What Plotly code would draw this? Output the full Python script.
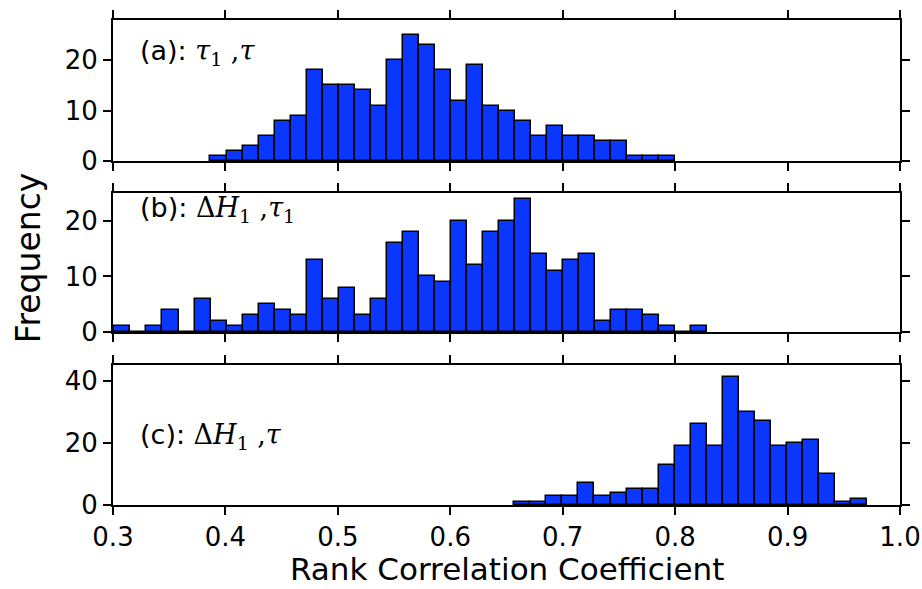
import plotly.graph_objects as go

# ---- data ----
counts_a = [1, 2, 3, 5, 8, 9, 18, 15, 15, 14, 11, 20, 25, 23, 18, 12, 19, 11, 10, 8, 5, 7, 5, 5, 4, 4, 1, 1, 1]
start_a, width_a = 0.3867, 0.01425

counts_b = [1, 0, 1, 4, 0, 6, 2, 1, 3, 5, 4, 3, 13, 6, 8, 3, 6, 16, 18, 10, 9, 20, 12, 18, 20, 24, 14, 11, 13, 14, 2, 4, 4, 3, 1, 0, 1]
start_b, width_b = 0.3013, 0.01424

counts_c = [1, 1, 3, 3, 7, 3, 4, 5, 5, 13, 19, 26, 19, 41, 30, 27, 19, 20, 21, 10, 1, 2]
start_c, width_c = 0.6569, 0.01427

x_ticks = [0.3, 0.4, 0.5, 0.6, 0.7, 0.8, 0.9, 1.0]
x_ticklabels = ["0.3", "0.4", "0.5", "0.6", "0.7", "0.8", "0.9", "1.0"]
y_ticks_a = [0, 10, 20]
y_ticks_b = [0, 10, 20]
y_ticks_c = [0, 20, 40]
y_max = [28, 25, 45]

labels = [
    "(a): <span style='font-family:\"DejaVu Serif\"'><i>τ</i><sub>1</sub> ,<i>τ</i></span>",
    "(b): <span style='font-family:\"DejaVu Serif\"'>Δ<i>H</i><sub>1</sub> ,<i>τ</i><sub>1</sub></span>",
    "(c): <span style='font-family:\"DejaVu Serif\"'>Δ<i>H</i><sub>1</sub> ,<i>τ</i></span>",
]

BAR_COLOR = "#0a37ff"
FONT = "DejaVu Sans"

panels = [(counts_a, start_a, width_a), (counts_b, start_b, width_b), (counts_c, start_c, width_c)]

fig = go.Figure()
for i, (cnts, s, w) in enumerate(panels):
    centers = [s + w * (k + 0.5) for k in range(len(cnts))]
    fig.add_trace(go.Bar(
        x=centers, y=cnts, width=[w] * len(cnts),
        marker=dict(color=BAR_COLOR, line=dict(color="black", width=1.5)),
        xaxis="x" if i == 0 else f"x{i+1}",
        yaxis="y" if i == 0 else f"y{i+1}",
        showlegend=False,
    ))

# plot-area geometry (px): left 112.5, right 900, top 20, bottom 505
domains = [[0.7093, 1.0], [0.3567, 0.6433], [0.0, 0.2887]]
yticks = [y_ticks_a, y_ticks_b, y_ticks_c]

common_x = dict(range=[0.3, 1.0], tickvals=x_ticks, ticktext=x_ticklabels,
                showline=True, linecolor="black", linewidth=2, mirror="ticks",
                ticks="outside", ticklen=8, tickwidth=1.5, tickcolor="black",
                showgrid=False, zeroline=False, automargin=False,
                tickfont=dict(family=FONT, size=26, color="black"))
common_y = dict(showline=True, linecolor="black", linewidth=2, mirror="ticks",
                ticks="outside", ticklen=8, tickwidth=1.5, tickcolor="black",
                showgrid=False, zeroline=False, automargin=False,
                tickfont=dict(family=FONT, size=26, color="black"))

layout = dict(
    width=922, height=589,
    margin=dict(l=112.5, r=22, t=20, b=84, autoexpand=False),
    paper_bgcolor="white", plot_bgcolor="white",
    bargap=0,
)
for i in range(3):
    xk = "xaxis" if i == 0 else f"xaxis{i+1}"
    yk = "yaxis" if i == 0 else f"yaxis{i+1}"
    ax = dict(common_x)
    ax["domain"] = [0, 1]
    ax["anchor"] = "y" if i == 0 else f"y{i+1}"
    ax["showticklabels"] = (i == 2)
    ay = dict(common_y)
    ay["domain"] = domains[i]
    ay["range"] = [0, y_max[i]]
    ay["tickvals"] = yticks[i]
    ay["anchor"] = "x" if i == 0 else f"x{i+1}"
    layout[xk] = ax
    layout[yk] = ay

fig.update_layout(**layout)

label_y = [0.766, 0.878, 0.486]
for i in range(3):
    xr = "x domain" if i == 0 else f"x{i+1} domain"
    yr = "y domain" if i == 0 else f"y{i+1} domain"
    fig.add_annotation(text=labels[i], xref=xr, yref=yr, x=0.032, y=label_y[i],
                       xanchor="left", yanchor="middle", showarrow=False,
                       font=dict(family=FONT, size=27, color="black"))

fig.add_annotation(text="Frequency", xref="paper", yref="paper", x=-0.108, y=0.509,
                   textangle=-90, xanchor="center", yanchor="middle", showarrow=False,
                   font=dict(family=FONT, size=33, color="black"))
fig.add_annotation(text="Rank Correlation Coefficient", xref="paper", yref="paper",
                   x=0.5, y=-0.132, xanchor="center", yanchor="middle", showarrow=False,
                   font=dict(family=FONT, size=31, color="black"))

fig.write_html("out.html")
